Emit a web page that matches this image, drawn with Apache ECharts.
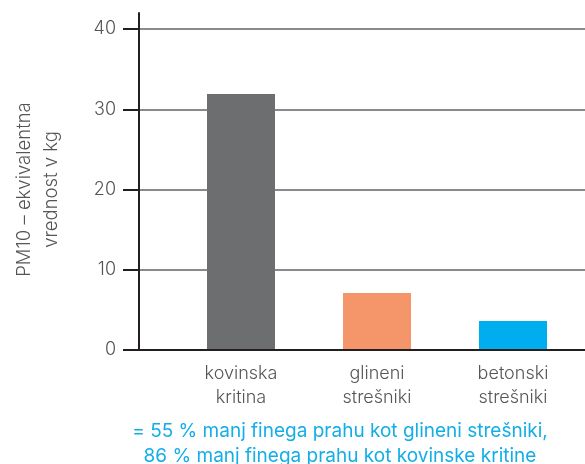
<!DOCTYPE html>
<html>
<head>
<meta charset="utf-8">
<script src="https://cdn.jsdelivr.net/npm/echarts@6/dist/echarts.min.js"></script>
<style>html,body{margin:0;padding:0;background:#fff}#c{width:585px;height:464px}</style>
</head>
<body>
<div id="c"></div>
<script>
const categories = ['kovinska\nkritina', 'glineni\nstrešniki', 'betonski\nstrešniki'];
const values = [31.9, 7.1, 3.6];
const barColors = ['#6d6e70', '#f4956a', '#00adef'];
const yTicks = { min: 0, max: 40, interval: 10 };
const yTitle = 'PM10 – ekvivalentna\nvrednost v kg';
const note = '= 55 % manj finega prahu kot glineni strešniki,\n86 % manj finega prahu kot kovinske kritine';

const FONT = 'Inter';
const chart = echarts.init(document.getElementById('c'), null, { renderer: 'canvas' });
chart.setOption({
  animation: false,
  backgroundColor: '#fff',
  textStyle: { fontFamily: FONT },
  grid: [
    { left: 139, right: 0, top: 13, bottom: 114 },
    { left: 139, right: 0, top: 29, bottom: 114 },
    { left: 173, right: 4, top: 29, bottom: 114 }
  ],
  xAxis: [
    { gridIndex: 0, type: 'value', min: 0, max: 1, z: 10,
      axisLine: { show: true, lineStyle: { color: '#231f20', width: 2 } },
      axisTick: { show: false }, axisLabel: { show: false }, splitLine: { show: false } },
    { gridIndex: 1, type: 'value', min: 0, max: 1, show: false },
    { gridIndex: 2, type: 'category', data: categories,
      axisLine: { show: false }, axisTick: { show: false },
      axisLabel: { color: '#555', fontSize: 18, fontWeight: 300, lineHeight: 24, margin: 12, fontFamily: FONT } }
  ],
  yAxis: [
    { gridIndex: 0, type: 'value', min: 0, max: 1, z: 10,
      axisLine: { show: true, lineStyle: { color: '#231f20', width: 2 } },
      axisTick: { show: false }, axisLabel: { show: false }, splitLine: { show: false } },
    { gridIndex: 1, type: 'value', min: yTicks.min, max: yTicks.max, interval: yTicks.interval,
      axisLine: { show: false },
      axisTick: { show: true, inside: false, length: 16, lineStyle: { color: '#231f20', width: 2 } },
      axisLabel: { color: '#555', fontSize: 18, fontWeight: 300, margin: 23, fontFamily: FONT },
      splitLine: { show: true, lineStyle: { color: '#8a898e', width: 2 } },
      name: yTitle, nameLocation: 'middle', nameGap: 74,
      nameTextStyle: { color: '#555', fontSize: 18.5, fontWeight: 300, lineHeight: 27, fontFamily: FONT } },
    { gridIndex: 2, type: 'value', min: yTicks.min, max: yTicks.max, show: false }
  ],
  series: [{
    type: 'bar', xAxisIndex: 2, yAxisIndex: 2, barWidth: '50%',
    data: values.map((v, i) => ({ value: v, itemStyle: { color: barColors[i] } }))
  }],
  graphic: [{
    type: 'text', x: 340, y: 419,
    style: { text: note, fill: '#14aee6', fontSize: 19, fontFamily: FONT, fontWeight: 400,
      lineHeight: 25, textAlign: 'center', textVerticalAlign: 'top' }
  }]
});
</script>
</body>
</html>
